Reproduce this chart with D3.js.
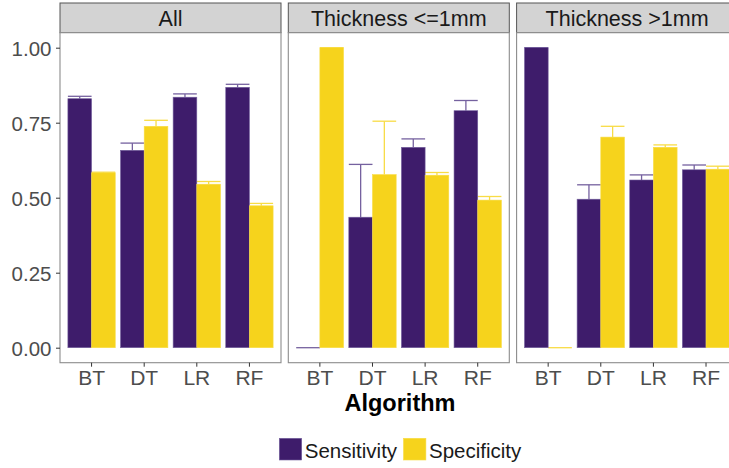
<!DOCTYPE html>
<html>
<head>
<meta charset="utf-8">
<script src="https://cdn.jsdelivr.net/npm/d3@7"></script>
<style>
  body { margin: 0; background: #fff; }
  svg { display: block; font-family: "Liberation Sans", Arial, sans-serif; }
</style>
</head>
<body>
<svg id="chart" width="729" height="468"></svg>
<script>
// Facets, categories and measured values
const panels = ["All", "Thickness <=1mm", "Thickness >1mm"];
const algorithms = ["BT", "DT", "LR", "RF"];
const metrics = ["Sensitivity", "Specificity"];

// Mean values per facet (rows follow `panels`, columns follow `algorithms`)
const sensitivity = [
  [0.830, 0.658, 0.835, 0.868],
  [0.000, 0.435, 0.668, 0.790],
  [1.000, 0.495, 0.559, 0.593]
];
const specificity = [
  [0.583, 0.738, 0.545, 0.473],
  [1.000, 0.577, 0.575, 0.492],
  [0.000, 0.702, 0.668, 0.595]
];
// Upper ends of the error bars
const sensitivityUpper = [
  [0.838, 0.682, 0.846, 0.878],
  [0.000, 0.611, 0.696, 0.824],
  [1.000, 0.543, 0.576, 0.609]
];
const specificityUpper = [
  [0.585, 0.758, 0.554, 0.481],
  [1.000, 0.755, 0.584, 0.504],
  [0.000, 0.738, 0.676, 0.605]
];
const yTicks = [0, 0.25, 0.5, 0.75, 1];

const fillColor = { Sensitivity: "#3e1c6b", Specificity: "#f6d31c" };
const edgeColor = { Sensitivity: "#75619f", Specificity: "#f8dc45" };

const svg = d3.select("#chart");

const panelTop = 32.7, panelBottom = 362.7, stripTop = 3;
const panelWidth = 221, panelGap = 7.3, firstLeft = 60;

const y = d3.scaleLinear().domain([-0.05, 1.05]).range([panelBottom, panelTop]);

const panelX = d3.scaleBand()
  .domain(panels)
  .range([firstLeft, firstLeft + 3 * panelWidth + 2 * panelGap])
  .paddingInner(panelGap / (panelWidth + panelGap));

panels.forEach((p, pi) => {
  const left = panelX(p);
  const g = svg.append("g");

  // strip header
  g.append("rect")
    .attr("x", left).attr("y", stripTop)
    .attr("width", panelWidth).attr("height", panelTop - stripTop)
    .attr("fill", "#d3d3d3").attr("stroke", "#555").attr("stroke-width", 1);
  g.append("text")
    .attr("x", left + panelWidth / 2).attr("y", 25.5)
    .attr("text-anchor", "middle")
    .attr("font-size", 21.5).attr("fill", "#1a1a1a")
    .text(p);

  // panel background
  g.append("rect")
    .attr("x", left).attr("y", panelTop)
    .attr("width", panelWidth).attr("height", panelBottom - panelTop)
    .attr("fill", "#fff");

  const x = d3.scaleBand()
    .domain(algorithms)
    .range([left, left + panelWidth])
    .paddingInner(0.1).paddingOuter(0.15);
  const xSub = d3.scaleBand().domain(metrics).range([0, x.bandwidth()]);

  const rows = [];
  algorithms.forEach((a, ai) => {
    rows.push({ a, m: "Sensitivity", v: sensitivity[pi][ai], hi: sensitivityUpper[pi][ai] });
    rows.push({ a, m: "Specificity", v: specificity[pi][ai], hi: specificityUpper[pi][ai] });
  });

  // error bars (upper half), drawn beneath the bars
  const eb = g.append("g");
  rows.forEach(d => {
    const x0 = x(d.a) + xSub(d.m), w = xSub.bandwidth(), cx = x0 + w / 2;
    eb.append("line")
      .attr("x1", cx).attr("x2", cx)
      .attr("y1", y(d.v)).attr("y2", y(d.hi))
      .attr("stroke", edgeColor[d.m]).attr("stroke-width", 1.3);
    eb.append("line")
      .attr("x1", x0).attr("x2", x0 + w)
      .attr("y1", y(d.hi)).attr("y2", y(d.hi))
      .attr("stroke", edgeColor[d.m]).attr("stroke-width", 1.3);
  });

  // bars
  g.append("g").selectAll("rect")
    .data(rows)
    .join("rect")
    .attr("x", d => x(d.a) + xSub(d.m))
    .attr("width", xSub.bandwidth())
    .attr("y", d => y(d.v))
    .attr("height", d => y(0) - y(d.v))
    .attr("fill", d => fillColor[d.m])
    .attr("stroke", d => edgeColor[d.m])
    .attr("stroke-width", 0.6);

  // panel border
  g.append("rect")
    .attr("x", left).attr("y", panelTop)
    .attr("width", panelWidth).attr("height", panelBottom - panelTop)
    .attr("fill", "none").attr("stroke", "#8c8c8c").attr("stroke-width", 1.1);

  // x axis
  const xAxis = g.append("g")
    .attr("transform", `translate(0,${panelBottom})`)
    .call(d3.axisBottom(x).tickSize(4).tickPadding(4));
  xAxis.select(".domain").remove();
  xAxis.selectAll(".tick line").attr("stroke", "#333");
  xAxis.selectAll(".tick text")
    .attr("font-family", "Liberation Sans, Arial, sans-serif")
    .attr("font-size", 21).attr("fill", "#4d4d4d")
    .attr("dy", 0).attr("y", 22);

  // y axis on the first panel only
  if (pi === 0) {
    const yAxis = g.append("g")
      .attr("transform", `translate(${left},0)`)
      .call(d3.axisLeft(y).tickValues(yTicks).tickFormat(d3.format(".2f")).tickSize(4).tickPadding(4.5));
    yAxis.select(".domain").remove();
    yAxis.selectAll(".tick line").attr("stroke", "#333");
    yAxis.selectAll(".tick text")
      .attr("font-family", "Liberation Sans, Arial, sans-serif")
      .attr("font-size", 20.5).attr("fill", "#4d4d4d")
      .attr("dy", "0.36em");
  }
});

// x axis title
svg.append("text")
  .attr("x", 400).attr("y", 411)
  .attr("text-anchor", "middle")
  .attr("font-size", 23.5).attr("font-weight", "bold").attr("fill", "#000")
  .text("Algorithm");

// legend
const legend = svg.append("g");
const legendItems = [
  { m: "Sensitivity", x: 279.3 },
  { m: "Specificity", x: 403.5 }
];
legendItems.forEach(it => {
  legend.append("rect")
    .attr("x", it.x).attr("y", 438.3)
    .attr("width", 22.4).attr("height", 21.7)
    .attr("fill", fillColor[it.m]).attr("stroke", edgeColor[it.m]).attr("stroke-width", 0.6);
  legend.append("text")
    .attr("x", it.x + 25.5).attr("y", 458)
    .attr("font-size", 20.5).attr("fill", "#1a1a1a")
    .text(it.m);
});
</script>
</body>
</html>
